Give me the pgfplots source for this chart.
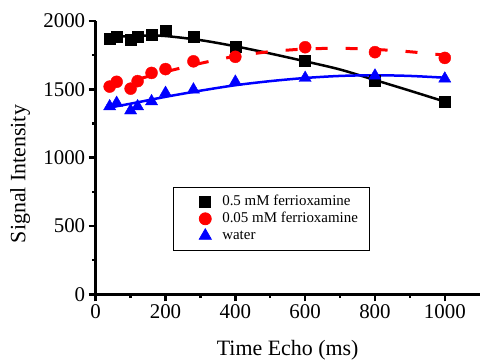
\documentclass[border=0pt]{standalone}
\usepackage{pgfplots}
\pgfplotsset{compat=1.18}
\usepackage{fontspec}
\setmainfont{Liberation Serif}

\pgfplotstableread{
x y
40 1874
60 1886
100 1866
120 1886
160 1900
200 1928
280 1886
400 1812
600 1708
800 1561
1000 1410
}\blackdata
\pgfplotstableread{
x y
40 1520
60 1555
100 1505
120 1560
160 1620
200 1648
280 1705
400 1738
600 1808
800 1772
1000 1730
}\reddata
\pgfplotstableread{
x y
40 1375
60 1400
100 1345
120 1375
160 1412
200 1473
280 1498
400 1555
600 1583
800 1600
1000 1578
}\bluedata

\begin{document}
\begin{tikzpicture}
\begin{axis}[
  scale only axis, width=384bp, height=273.3bp,
  xmin=0, xmax=1100, ymin=0, ymax=2000,
  axis x line=bottom, axis y line=left,
  axis line style={line width=3bp, -},
  xtick={0,200,...,1000}, ytick={0,500,...,2000},
  minor xtick={100,300,...,900}, minor ytick={250,750,...,1750},
  tick align=outside,
  major tick length=7bp, minor tick length=3.5bp,
  every tick/.style={line width=2.5bp, black},
  scaled ticks=false,
  /pgf/number format/1000 sep={},
  /pgf/number format/assume math mode=true,
  ticklabel style={font=\fontsize{21}{24}\selectfont},
  label style={font=\fontsize{22}{26}\selectfont},
  xlabel={Time Echo (ms)},
  ylabel={Signal Intensity},
  xlabel style={at={(axis description cs:0.5,-0.204)}, anchor=center},
  ylabel style={at={(axis description cs:-0.197,0.44)}, anchor=center},
  legend style={at={(axis description cs:0.201,0.393)}, anchor=north west,
    draw=black, line width=0.8bp, font=\fontsize{15}{17}\selectfont,
    inner xsep=11bp, inner ysep=7.5bp,
    nodes={inner xsep=0pt, inner ysep=0pt, text height=11bp, text depth=3bp},
    row sep=3bp, column sep=0pt},
  legend image code/.code={%
    \path[draw=none, fill=none] (0bp,0bp) (38bp,0bp);
    \draw[#1] plot coordinates {(21bp,0bp)};},
  legend cell align=left,
  clip=false,
]
% fitted curves
\addplot[black, line width=2.5bp, smooth, forget plot] coordinates {
(40,1880) (100,1890) (150,1893) (200,1890) (300,1860) (400,1815) (500,1762) (600,1705) (700,1645) (800,1568) (900,1490) (1000,1410)};
\addplot[red, line width=3bp, smooth, dash pattern=on 12bp off 18bp, forget plot] coordinates {
(40,1520) (100,1560) (200,1628) (300,1690) (400,1742) (500,1776) (600,1795) (700,1800) (800,1792) (900,1775) (1000,1750)};
\addplot[blue, line width=2.5bp, smooth, forget plot] coordinates {
(30,1362) (100,1395) (200,1445) (300,1490) (400,1530) (500,1560) (600,1583) (700,1598) (800,1603) (900,1598) (1000,1585)};
% data
\addplot[only marks, mark=square*, mark size=5.5bp, black] table[x=x,y=y] {\blackdata};
\addlegendentry{0.5 mM ferrioxamine}
\addplot[only marks, mark=*, mark size=6bp, red] table[x=x,y=y] {\reddata};
\addlegendentry{0.05 mM ferrioxamine}
\addplot[only marks, mark=triangle*, mark size=7bp, blue] table[x=x,y=y] {\bluedata};
\addlegendentry{water}
\end{axis}
\pgfresetboundingbox
\path[use as bounding box] (-95.7bp,-65.7bp) rectangle (384.3bp,294.3bp);
\end{tikzpicture}
\end{document}
